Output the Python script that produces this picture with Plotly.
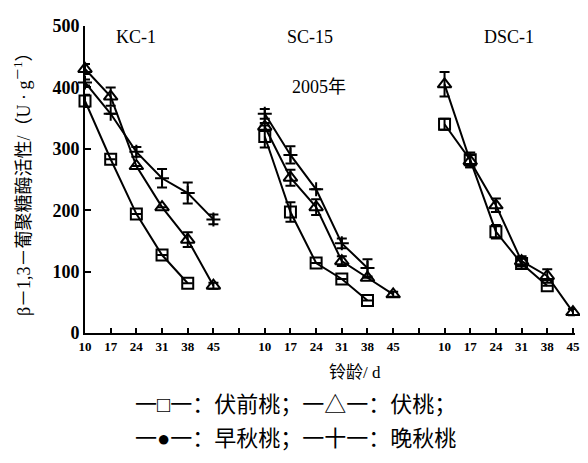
import plotly.graph_objects as go

days = [10, 17, 24, 31, 38, 45]
panels = ["KC-1", "SC-15", "DSC-1"]
panel_offset = [0, 7, 14]

# 伏前桃 (square), 伏桃 (triangle), 晚秋桃 (plus)
kc_sq = [378, 283, 194, 127, 81, None]
kc_sq_err = [10, 0, 0, 0, 0, 0]
kc_tri = [430, 385, 272, 205, 152, 77]
kc_tri_err = [8, 15, 0, 0, 12, 5]
kc_plus = [408, 357, 295, 252, 228, 185]
kc_plus_err = [5, 0, 8, 15, 17, 8]

sc_sq = [320, 197, 114, 88, 53, None]
sc_sq_err = [18, 16, 0, 0, 0, 0]
sc_tri = [336, 253, 205, 117, 90, 63]
sc_tri_err = [6, 13, 13, 8, 0, 4]
sc_plus = [357, 290, 234, 146, 106, None]
sc_plus_err = [8, 14, 0, 8, 14, 0]

dsc_sq = [340, 282, 165, 113, 77, None]
dsc_sq_err = [9, 12, 11, 8, 0, 0]
dsc_tri = [405, 280, 208, 117, 93, 34]
dsc_tri_err = [20, 10, 11, 8, 11, 5]

tick_labels = ["10", "17", "24", "31", "38", "45"]

series = [
    (0, kc_sq, kc_sq_err, "square-open"),
    (0, kc_tri, kc_tri_err, "triangle-up-open"),
    (0, kc_plus, kc_plus_err, "cross-thin"),
    (1, sc_sq, sc_sq_err, "square-open"),
    (1, sc_tri, sc_tri_err, "triangle-up-open"),
    (1, sc_plus, sc_plus_err, "cross-thin"),
    (2, dsc_sq, dsc_sq_err, "square-open"),
    (2, dsc_tri, dsc_tri_err, "triangle-up-open"),
]

fig = go.Figure()
for p, ys, errs, sym in series:
    xs = [panel_offset[p] + (d - 10) / 7 for d in days]
    size = 11 if sym == "square-open" else (12 if sym == "triangle-up-open" else 10)
    fig.add_trace(go.Scatter(
        x=xs, y=ys, mode="lines+markers", cliponaxis=False,
        line=dict(color="black", width=2),
        marker=dict(symbol=sym, size=size, color="black",
                    line=dict(color="black", width=2)),
        error_y=dict(type="data", array=errs, color="black", thickness=2, width=5),
        showlegend=False,
    ))

tickvals = list(range(20))
ticktext = tick_labels + [""] + tick_labels + [""] + tick_labels

serif = "Liberation Serif, Noto Sans CJK SC"
cjk = "Liberation Serif, Noto Sans CJK SC"

# the page body has an 8px margin, so the figure is shrunk and shifted accordingly
fig.update_layout(
    width=580, height=455,
    margin=dict(l=77, r=8, t=13, b=130),
    paper_bgcolor="white", plot_bgcolor="white",
    xaxis=dict(range=[0, 19.08], tickvals=tickvals, ticktext=ticktext,
               ticks="inside", ticklen=5, tickwidth=1.5, tickcolor="black",
               showline=True, linecolor="black", linewidth=2,
               showgrid=False, zeroline=False,
               tickfont=dict(family=serif, size=13, color="black", weight="bold")),
    yaxis=dict(range=[0, 500], tickvals=[0, 100, 200, 300, 400, 500],
               ticks="inside", ticklen=6, tickwidth=1.5, tickcolor="black",
               showline=True, linecolor="black", linewidth=2,
               showgrid=False, zeroline=False,
               tickfont=dict(family=serif, size=18, color="black", weight="bold")),
)

anns = [
    dict(x=2.0, y=482, xref="x", yref="y", text="KC-1", font=dict(family=serif, size=18)),
    dict(x=8.75, y=482, xref="x", yref="y", text="SC-15", font=dict(family=serif, size=18)),
    dict(x=16.5, y=482, xref="x", yref="y", text="DSC-1", font=dict(family=serif, size=18)),
    dict(x=9.1, y=400, xref="x", yref="y", text="2005年", font=dict(family=cjk, size=18)),
    dict(x=0.552, y=-0.167, xref="paper", yref="paper", text="铃龄/ d",
         font=dict(family=cjk, size=17)),
    dict(x=-0.155, y=0.5, xref="paper", yref="paper", textangle=-90,
         text="β－1,3－葡聚糖酶活性/（U · g<sup>－1</sup>）", font=dict(family=cjk, size=18)),
    dict(x=0.43, y=-0.279, xref="paper", yref="paper",
         text="一□一：伏前桃；一△一：伏桃；", font=dict(family=cjk, size=22)),
    dict(x=0.43, y=-0.391, xref="paper", yref="paper",
         text="一●一：早秋桃；一十一：晚秋桃", font=dict(family=cjk, size=22)),
]
for a in anns:
    a.setdefault("showarrow", False)
    a["font"]["color"] = "black"
    fig.add_annotation(**a)

fig.write_html("out.html")
